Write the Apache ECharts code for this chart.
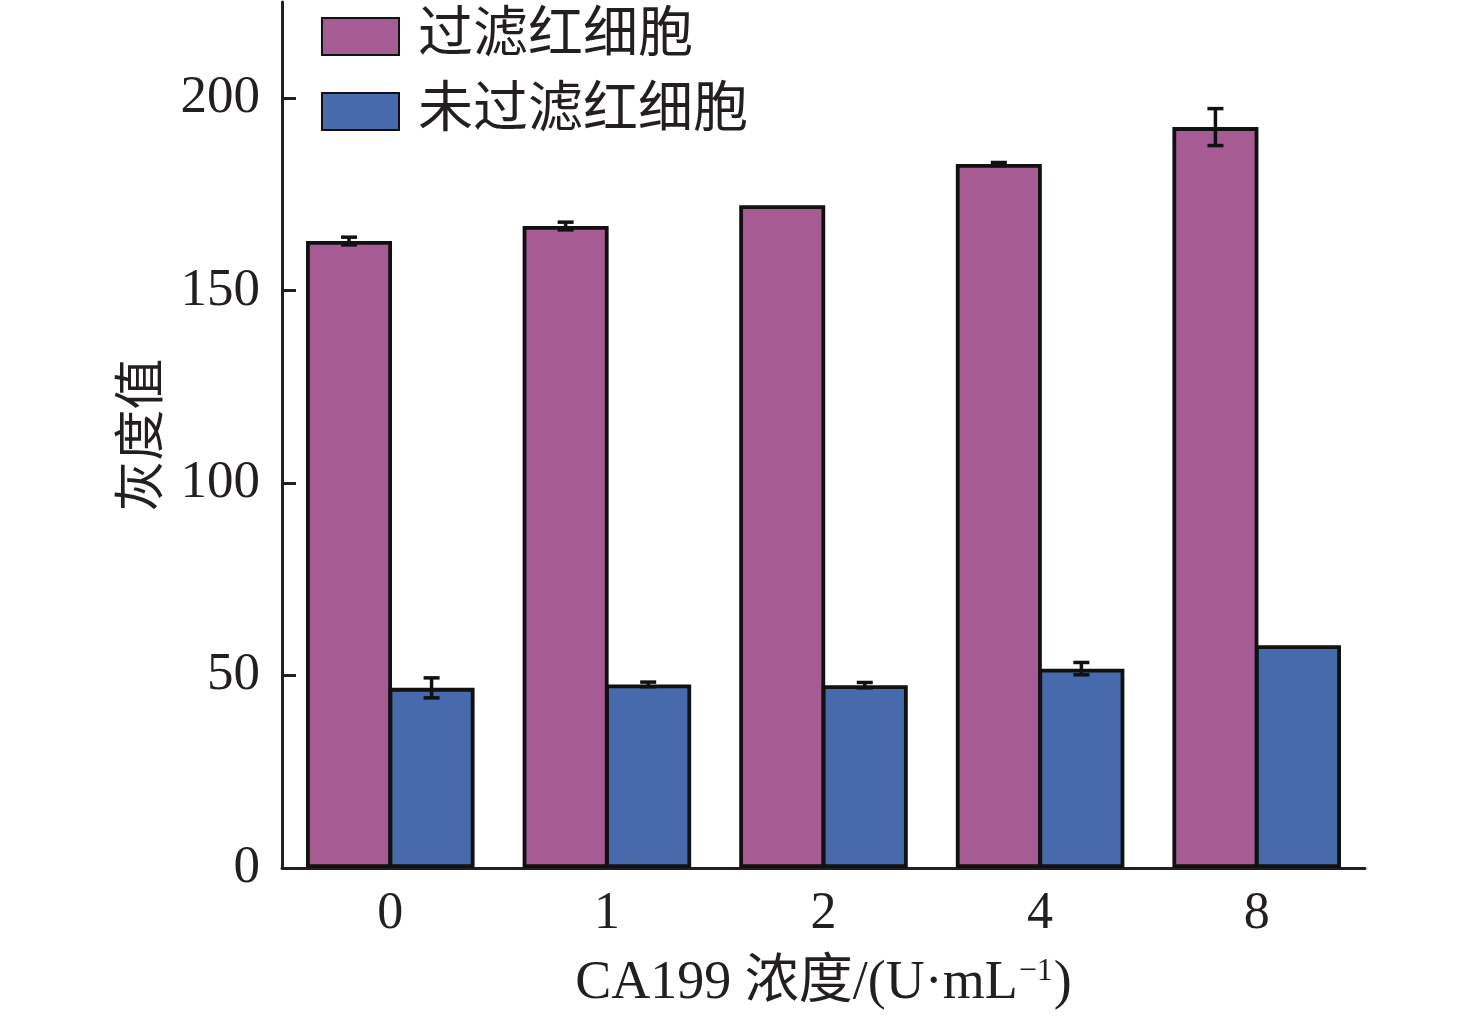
<!DOCTYPE html>
<html>
<head>
<meta charset="utf-8">
<script src="https://cdn.jsdelivr.net/npm/echarts@6/dist/echarts.min.js"></script>
<style>html,body{margin:0;padding:0;background:#fff}#c{width:1476px;height:1020px}</style>
</head>
<body>
<div id="c"></div>
<script>
const categories = ['0', '1', '2', '4', '8'];
const filteredValues = [162.9, 166.8, 172.2, 182.9, 192.5];
const filteredErrors = [1.0, 1.0, 0, 0.4, 4.8];
const unfilteredValues = [46.8, 47.7, 47.5, 51.8, 57.9];
const unfilteredErrors = [2.6, 0.6, 0.7, 1.6, 0];
const yTicks = [0, 50, 100, 150, 200];
const seriesNames = ['过滤红细胞', '未过滤红细胞'];

const FONT = '"Liberation Serif", "Times New Roman", "Noto Sans CJK SC", serif';
const INK = '#231f20';
const BAR_W = 86;
const GAP_PCT = -4;
const HALF_SHIFT = (BAR_W + BAR_W * GAP_PCT / 100) / 2;

function errData(vals, errs) {
  return vals.map((v, i) => [i, v, errs[i]]);
}
function errRender(offset) {
  return function (params, api) {
    const e = api.value(2);
    if (!(e > 0)) return null;
    const i = api.value(0), v = api.value(1);
    const top = api.coord([i, v + e]);
    const bot = api.coord([i, v - e]);
    const cx = top[0] + offset;
    const cap = 8;
    const st = { stroke: '#111', lineWidth: 3.5 };
    return {
      type: 'group',
      children: [
        { type: 'line', shape: { x1: cx, y1: top[1], x2: cx, y2: bot[1] }, style: st },
        { type: 'line', shape: { x1: cx - cap, y1: top[1], x2: cx + cap, y2: top[1] }, style: st },
        { type: 'line', shape: { x1: cx - cap, y1: bot[1], x2: cx + cap, y2: bot[1] }, style: st }
      ]
    };
  };
}

const chart = echarts.init(document.getElementById('c'));
chart.setOption({
  animation: false,
  backgroundColor: '#fff',
  grid: { left: 282, right: 111, top: 2, bottom: 152, containLabel: false },
  legend: {
    data: seriesNames,
    orient: 'vertical',
    left: 316,
    top: 4,
    itemWidth: 77,
    itemHeight: 37,
    itemGap: 20,
    icon: 'rect',
    textStyle: { fontFamily: FONT, fontSize: 55, color: INK, padding: [0, 0, 0, 14] }
  },
  xAxis: {
    type: 'category',
    data: categories,
    name: '{a|CA199 浓度/(U·mL}{s|−1}{a|)}',
    nameLocation: 'middle',
    nameGap: 88,
    nameTextStyle: {
      rich: {
        a: { fontFamily: FONT, fontSize: 54, color: INK },
        s: { fontFamily: FONT, fontSize: 32, color: INK, verticalAlign: 'top', padding: [0, 1, 24, 1] }
      }
    },
    axisLine: { lineStyle: { color: INK, width: 3 } },
    axisTick: { inside: true, alignWithLabel: true, length: 10, lineStyle: { color: INK, width: 2 } },
    axisLabel: { fontFamily: FONT, fontSize: 52, color: INK, margin: 20 },
    splitLine: { show: false }
  },
  yAxis: {
    type: 'value',
    min: 0,
    max: 225,
    interval: 50,
    name: '灰度值',
    nameLocation: 'middle',
    nameGap: 118,
    nameTextStyle: { fontFamily: '"Noto Sans CJK SC", serif', fontSize: 51, color: INK },
    axisLine: { show: true, lineStyle: { color: INK, width: 3 } },
    axisTick: { show: true, inside: true, length: 14, customValues: yTicks, lineStyle: { color: INK, width: 3 } },
    axisLabel: { fontFamily: FONT, fontSize: 53, color: INK, margin: 22, customValues: yTicks },
    splitLine: { show: false }
  },
  series: [
    {
      name: seriesNames[0],
      type: 'bar',
      data: filteredValues,
      barWidth: BAR_W,
      barGap: GAP_PCT + '%',
      itemStyle: { color: '#a65b93', borderColor: '#111', borderWidth: 3.8 }
    },
    {
      name: seriesNames[1],
      type: 'bar',
      data: unfilteredValues,
      barWidth: BAR_W,
      barGap: GAP_PCT + '%',
      itemStyle: { color: '#466aab', borderColor: '#111', borderWidth: 3.8 }
    },
    {
      name: 'err1',
      type: 'custom',
      data: errData(filteredValues, filteredErrors),
      renderItem: errRender(-HALF_SHIFT),
      z: 10,
      silent: true
    },
    {
      name: 'err2',
      type: 'custom',
      data: errData(unfilteredValues, unfilteredErrors),
      renderItem: errRender(HALF_SHIFT),
      z: 10,
      silent: true
    }
  ]
});
</script>
</body>
</html>
